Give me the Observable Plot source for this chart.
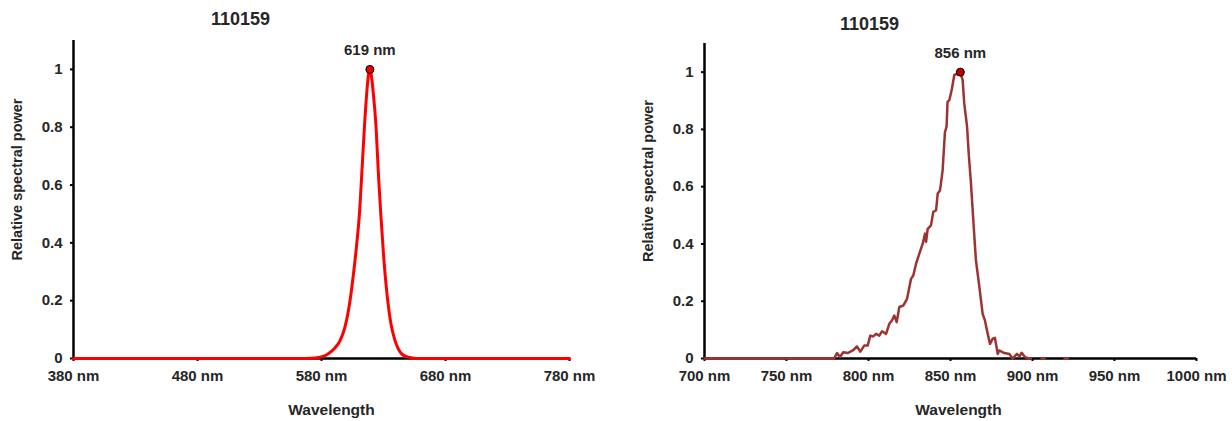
<!DOCTYPE html>
<html>
<head>
<meta charset="utf-8">
<script src="https://cdn.jsdelivr.net/npm/d3@7"></script>
<script src="https://cdn.jsdelivr.net/npm/@observablehq/plot@0.6"></script>
<style>
  html, body { margin: 0; padding: 0; background: #fff; }
  #charts { display: flex; width: 1232px; height: 421px; }
  #charts svg { display: block; }
</style>
</head>
<body>
<div id="charts"></div>
<script>
// Spectrum of the red LED (wavelength in nm, relative power)
const redNm = [380, 560, 575, 582, 586, 590, 595, 599, 603, 606, 608.5, 610.6, 612.5, 614.6, 616.5, 618, 619,
  620, 621.5, 624, 626, 627.8, 630, 633.4, 636, 639.3, 642, 644.7, 648, 653, 660, 780];
const redPower = [0, 0, 0.002, 0.008, 0.018, 0.033, 0.062, 0.11, 0.2, 0.3, 0.4, 0.5, 0.64, 0.8, 0.92, 0.985, 1,
  0.985, 0.93, 0.8, 0.63, 0.5, 0.36, 0.2, 0.12, 0.062, 0.033, 0.016, 0.007, 0.002, 0, 0];

// Spectrum of the infrared LED (null = no reading, line breaks there)
const irNm = [700, 779, 780.8, 782.6, 784.6, 787.3, 790.4, 793, 795, 797.4, 799.5, 801.1, 802.9, 804.6, 806.6,
  808.2, 810.7, 812.7, 814.3, 815.7, 817.2, 818.8, 821.2, 823.5, 825.9, 827.3, 829, 831, 833, 834.5, 835.1,
  836.1, 838.1, 839.5, 841.2, 842.2, 843.6, 845.2, 846.6, 847.6, 848.2, 849.3, 850.9, 852.3, 854.4, 856,
  857.4, 858.4, 860.1, 861.1, 862.5, 863.9, 865.5, 867.6, 869.6, 871, 872.7, 874.1, 875.7, 877.1, 878.8,
  879.7, 882.8, 885.9, 887.9, 890.5, 892, 893.4, 895.4, 898, 899,
  900, 905.5, 907.5, 908, 919.5, 921.5];
const irPower = [0, 0, 0.019, 0.005, 0.022, 0.019, 0.028, 0.042, 0.024, 0.045, 0.045, 0.08, 0.077, 0.086, 0.08,
  0.095, 0.086, 0.121, 0.133, 0.15, 0.127, 0.18, 0.185, 0.208, 0.278, 0.29, 0.331, 0.366, 0.4, 0.436, 0.407,
  0.453, 0.465, 0.512, 0.517, 0.576, 0.587, 0.657, 0.79, 0.81, 0.896, 0.902, 0.943, 0.99, 0.995, 1,
  0.972, 0.89, 0.81, 0.716, 0.61, 0.483, 0.343, 0.25, 0.156, 0.133, 0.086, 0.051, 0.069, 0.072, 0.016,
  0.028, 0.019, 0.016, 0, 0.016, 0.007, 0.02, 0.005, 0, 0,
  null, 0, 0, null, 0, 0];

const yTicks = [0, 0.2, 0.4, 0.6, 0.8, 1];
const redTicks = [380, 480, 580, 680, 780];
const irTicks = [700, 750, 800, 850, 900, 950, 1000];
const chartTitle = "110159";
const redPeak = {nm: 619, power: 1, label: "619 nm"};
const irPeak = {nm: 856, power: 1, label: "856 nm"};

const zip = (xs, ys) => xs.map((x, i) => ({nm: x, power: ys[i]}));
const redRows = zip(redNm, redPower);
const irRows = zip(irNm, irPower);

const font = "'Liberation Sans', Arial, sans-serif";
const ink = "#262626";

function spectrumChart({rows, ticks, peak, color, dotFill, lineWidth, curve, m, titleDx, titleDy, yLabelDy, xLabelDx}) {
  const [x0, x1] = [ticks[0], ticks[ticks.length - 1]];
  return Plot.plot({
    width: 616,
    height: 421,
    marginLeft: m.left,
    marginRight: m.right,
    marginTop: m.top,
    marginBottom: m.bottom,
    style: {fontFamily: font, fontWeight: "bold", fontSize: "15px", color: ink, background: "#fff", overflow: "visible"},
    x: {domain: [x0, x1], axis: null},
    y: {domain: [0, 1.1], axis: null},
    marks: [
      Plot.axisX({ticks, tickFormat: d => `${d} nm`, tickSize: 3, tickPadding: 9, strokeWidth: 2, stroke: "#000", fill: ink, label: null, fontSize: 15}),
      Plot.axisY({ticks: yTicks, tickFormat: d => String(d), tickSize: 3, tickPadding: 8, strokeWidth: 2, stroke: "#000", fill: ink, label: null, fontSize: 15}),
      Plot.ruleY([0], {x1: x0, x2: x1, stroke: "#000", strokeWidth: 2.5}),
      Plot.ruleX([x0], {y1: 0, y2: 1.1, stroke: "#000", strokeWidth: 2.5}),
      Plot.line(rows, {x: "nm", y: "power", stroke: color, strokeWidth: lineWidth, curve}),
      Plot.dot([peak], {x: "nm", y: "power", r: 4, fill: dotFill, stroke: "#000", strokeWidth: 1}),
      Plot.text([peak], {x: "nm", y: "power", text: "label", dy: -19, lineAnchor: "middle", fontSize: 15, fontWeight: "bold", fill: ink}),
      Plot.text([chartTitle], {frameAnchor: "top-left", dx: titleDx, dy: titleDy, textAnchor: "middle", lineAnchor: "middle", fontSize: 18, fontWeight: "bold", fill: ink}),
      Plot.text(["Relative spectral power"], {frameAnchor: "left", dx: -56, dy: yLabelDy, rotate: -90, textAnchor: "middle", lineAnchor: "middle", fontSize: 14.5, fontWeight: "bold", fill: ink}),
      Plot.text(["Wavelength"], {frameAnchor: "bottom", dx: xLabelDx, dy: 52, lineAnchor: "middle", fontSize: 15.5, fontWeight: "bold", fill: ink})
    ]
  });
}

const host = document.getElementById("charts");
host.append(spectrumChart({
  rows: redRows, ticks: redTicks, peak: redPeak, color: "#ff0000", dotFill: "#ee0000", lineWidth: 3,
  curve: "monotone-x", m: {left: 73, right: 47, top: 40, bottom: 63}, titleDx: 167, titleDy: -21, yLabelDy: -20, xLabelDx: 10
}));
host.append(spectrumChart({
  rows: irRows, ticks: irTicks, peak: irPeak, color: "#9c3432", dotFill: "#c00000", lineWidth: 2.5,
  curve: "linear", m: {left: 88, right: 36, top: 43, bottom: 63}, titleDx: 165, titleDy: -19, yLabelDy: -20, xLabelDx: 8
}));
</script>
</body>
</html>
